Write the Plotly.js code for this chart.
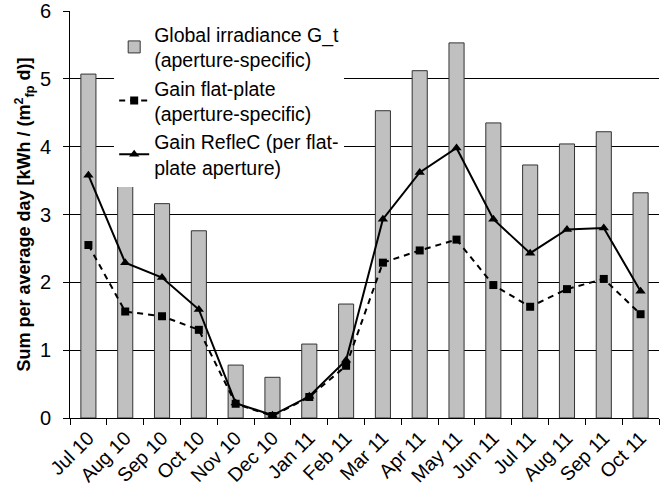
<!DOCTYPE html>
<html>
<head>
<meta charset="utf-8">
<script src="https://cdn.plot.ly/plotly-3.0.1.min.js"></script>
<style>html,body{margin:0;padding:0;background:#fff;}#chart{width:660px;height:495px;}</style>
</head>
<body>
<div id="chart"></div>
<script>
const months = ["Jul 10","Aug 10","Sep 10","Oct 10","Nov 10","Dec 10","Jan 11","Feb 11","Mar 11","Apr 11","May 11","Jun 11","Jul 11","Aug 11","Sep 11","Oct 11"];
const globalIrradiance = [5.07,3.45,3.16,2.76,0.78,0.60,1.09,1.68,4.53,5.12,5.53,4.35,3.73,4.04,4.22,3.32];
const gainFlatPlate = [2.55,1.57,1.50,1.30,0.21,0.03,0.31,0.77,2.29,2.47,2.63,1.96,1.64,1.90,2.05,1.53];
const gainRefleC = [3.58,2.29,2.07,1.60,0.22,0.04,0.32,0.85,2.93,3.62,3.98,2.93,2.43,2.78,2.80,1.87];
const yTicks = [0,1,2,3,4,5,6];

const font = "'Liberation Sans', Arial, sans-serif";
const traces = [
  {type:"bar", x:months, y:globalIrradiance, name:"Global irradiance G_t<br>(aperture-specific)",
   width:0.41, marker:{color:"#c0c0c0", line:{color:"#333", width:1}}},
  {type:"scatter", mode:"lines+markers", x:months, y:gainFlatPlate, name:"Gain flat-plate<br>(aperture-specific)",
   line:{color:"#000", width:2, dash:"6px,5px"}, marker:{symbol:"square", size:8, color:"#000"}},
  {type:"scatter", mode:"lines+markers", x:months, y:gainRefleC, name:"Gain RefleC (per flat-<br>plate aperture)",
   line:{color:"#000", width:2}, marker:{symbol:"triangle-up", size:9, color:"#000"}}
];
const layout = {
  width:660, height:495,
  margin:{l:70, r:1, t:11, b:77},
  paper_bgcolor:"#fff", plot_bgcolor:"#fff",
  font:{family:font, color:"#000"},
  showlegend:true,
  legend:{x:0.075, y:0.99, xanchor:"left", yanchor:"top", bgcolor:"#fff", borderwidth:0,
          font:{size:19.5, family:font}, traceorder:"normal", tracegroupgap:0, itemwidth:30},
  xaxis:{type:"category", tickangle:-45, tickfont:{size:19.5, family:font}, showgrid:false,
         showline:true, linecolor:"#000", linewidth:1, ticks:"outside", tickson:"boundaries",
         ticklen:6, tickcolor:"#000", range:[-0.5,15.5], mirror:false},
  yaxis:{range:[0,6], tickvals:yTicks, tickfont:{size:20, family:font}, showgrid:true, gridcolor:"#000", gridwidth:1,
         showline:true, linecolor:"#000", linewidth:1, ticks:"outside", ticklen:6, tickcolor:"#000",
         ticklabelstandoff:8, ticklabeloverflow:"allow",
         zeroline:false,
         title:{text:"<b>Sum per average day [kWh / (m<sup>2</sup><sub>fp</sub> d)]</b>", font:{size:18, family:font}, standoff:4}},
  bargap:0.5
};
Plotly.newPlot("chart", traces, layout, {displayModeBar:false, staticPlot:true});
</script>
</body>
</html>
